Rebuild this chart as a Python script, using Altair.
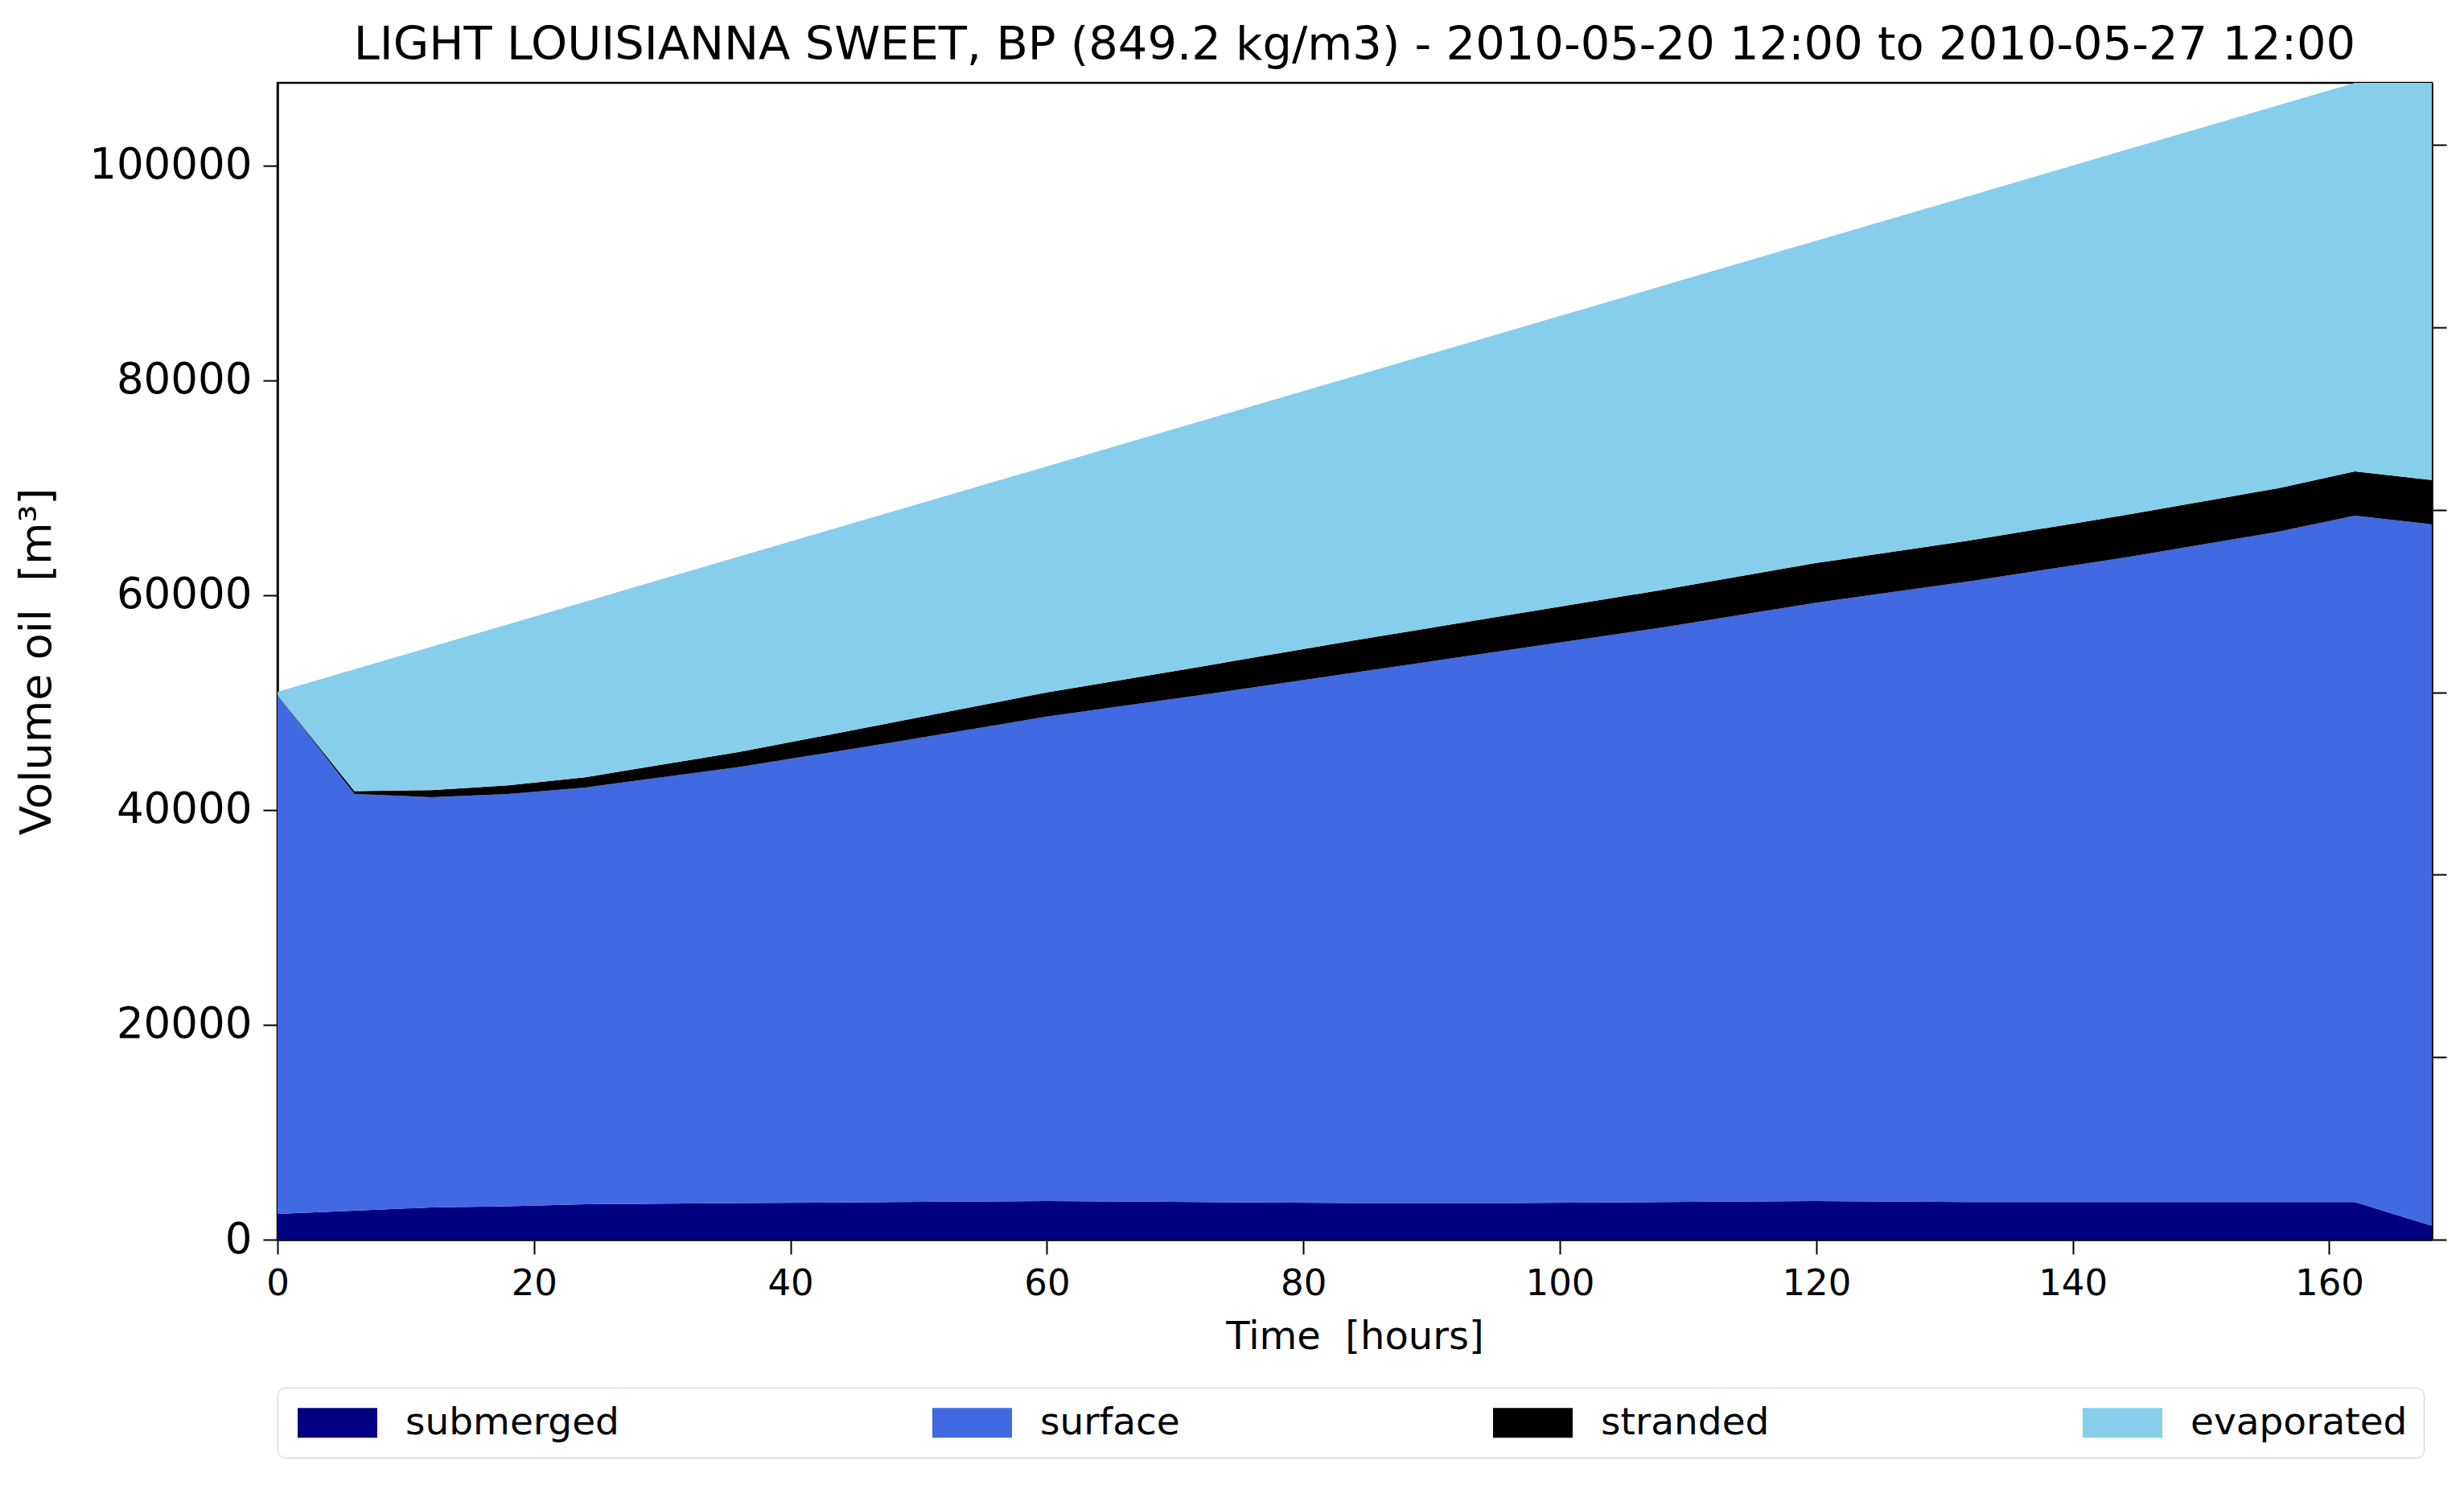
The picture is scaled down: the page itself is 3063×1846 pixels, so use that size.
import altair as alt
import pandas as pd

# ---- data (m3) ----
hours = [0, 6, 12, 18, 24, 36, 48, 60, 72, 84, 96, 108, 120, 132, 144, 156, 162, 168]
submerged = [2400, 2700, 3000, 3100, 3300, 3400, 3500, 3600, 3500, 3400, 3400, 3500, 3600, 3500, 3500, 3500, 3500, 1300]
surface = [48300, 38800, 38200, 38400, 38800, 40600, 42800, 45100, 47200, 49400, 51500, 53500, 55700, 57800, 60000, 62400, 63900, 65300]
stranded = [0, 250, 650, 800, 950, 1400, 1850, 2250, 2650, 3000, 3250, 3500, 3700, 3800, 3950, 4050, 4120, 4120]
evaporated = [300, 11350, 13350, 15000, 16350, 18200, 19650, 21050, 22850, 24600, 26450, 28300, 30000, 32100, 33950, 35650, 36180, 36980]

categories = ["submerged", "surface", "stranded", "evaporated"]
colors = ["#000080", "#4169e1", "#000000", "#87ceeb"]
density = 849.2  # kg/m3

x_ticks = [0, 20, 40, 60, 80, 100, 120, 140, 160]
y_ticks = [0, 20000, 40000, 60000, 80000, 100000]
right_ticks = [0, 20000, 40000, 60000, 80000, 100000, 120000]

title_text = "LIGHT LOUISIANNA SWEET, BP (849.2 kg/m3) - 2010-05-20 12:00 to 2010-05-27 12:00"
x_title = "Time\u00a0\u00a0[hours]"
y_title = "Volume oil\u00a0\u00a0[m³]"

series = [submerged, surface, stranded, evaporated]
rows = []
for i, h in enumerate(hours):
    for k, name in enumerate(categories):
        rows.append({"hours": h, "component": name, "volume": series[k][i], "order": k})
df = pd.DataFrame(rows)

totals = [sum(s[i] for s in series) for i in range(len(hours))]
ymax = max(totals)
tot_df = pd.DataFrame({"hours": hours, "total": totals})

FONT = "DejaVu Sans"

areas = alt.Chart(df).mark_area(interpolate="linear").encode(
    x=alt.X(
        "hours:Q",
        scale=alt.Scale(domain=[0, 168], nice=False, zero=False),
        axis=alt.Axis(
            values=x_ticks, title=x_title, labelFontSize=45, titleFontSize=48,
            labelPadding=14, titlePadding=20, labelFlush=False,
        ),
    ),
    y=alt.Y(
        "volume:Q",
        stack="zero",
        scale=alt.Scale(domain=[0, ymax], nice=False),
        axis=alt.Axis(
            values=y_ticks, format="d", title=y_title, labelFontSize=53,
            titleFontSize=54, labelPadding=14, titlePadding=72, labelFlush=False,
            labelLimit=400,
        ),
    ),
    color=alt.Color(
        "component:N",
        scale=alt.Scale(domain=categories, range=colors),
        legend=alt.Legend(
            orient="none", legendX=0, legendY=1622, direction="horizontal", columns=4,
            columnPadding=384, title=None, symbolType="M-1,-1H4.35V1H-1Z",
            symbolSize=1369, symbolStrokeWidth=0, symbolOpacity=1, labelFontSize=47,
            labelFont=FONT, labelOffset=92, padding=20, strokeColor="#cccccc",
            cornerRadius=10, fillColor="white", labelLimit=1000, labelColor="black",
        ),
    ),
    order=alt.Order("order:Q", sort="ascending"),
)

right = alt.Chart(tot_df).transform_calculate(
    scaled=f"datum.total / {density / 1000}"
).mark_line(strokeOpacity=0).encode(
    x=alt.X("hours:Q"),
    y=alt.Y(
        "scaled:Q",
        scale=alt.Scale(domain=[0, ymax / (density / 1000)], nice=False),
        axis=alt.Axis(orient="right", values=right_ticks, labels=False, title=None),
    ),
)

chart = alt.layer(areas, right).resolve_scale(y="independent").properties(
    width=2678,
    height=1438,
    autosize=alt.AutoSizeParams(type="none"),
    padding={"left": 337, "top": 95, "right": 20, "bottom": 290},
    title=alt.TitleParams(
        text=title_text, fontSize=57.5, font=FONT, fontWeight="normal", anchor="middle",
        offset=0, dy=40, baseline="bottom", color="black",
    ),
).configure_axis(
    domainColor="black", domainWidth=2.5, tickColor="black", tickWidth=2, tickSize=18,
    grid=False, labelFont=FONT, titleFont=FONT, labelColor="black", titleColor="black",
    titleFontWeight="normal",
).configure_view(stroke="black", strokeWidth=2.5)

chart.save("out.html", embed_options={"renderer": "svg", "actions": False})
